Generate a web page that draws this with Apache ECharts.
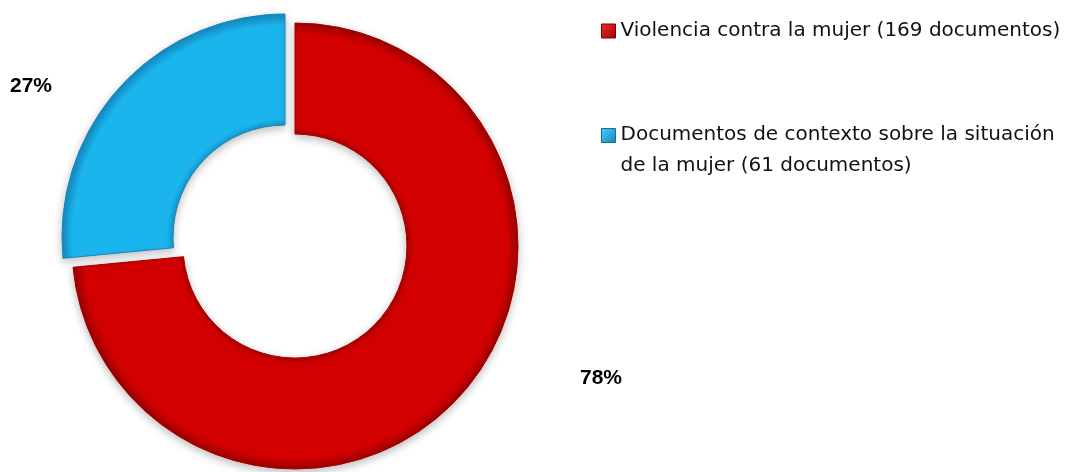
<!DOCTYPE html>
<html>
<head>
<meta charset="utf-8">
<script src="https://cdn.jsdelivr.net/npm/echarts@6/dist/echarts.min.js"></script>
<style>
  html, body { margin: 0; padding: 0; background: #ffffff; }
  #chart { width: 1065px; height: 472px; }
</style>
</head>
<body>
<div id="chart"></div>
<script>
// Document counts by category
const categories = [
  'Violencia contra la mujer (169 documentos)',
  'Documentos de contexto sobre la situación de la mujer (61 documentos)'
];
const docCounts = [169, 61];
const pctLabels = ['78%', '27%'];
const legendLines = [
  ['Violencia contra la mujer (169 documentos)'],
  ['Documentos de contexto sobre la situación', 'de la mujer (61 documentos)']
];

const chart = echarts.init(document.getElementById('chart'), null, { renderer: 'canvas' });

// Ring shading: darker rims on both edges, flat body in between
function ringShade(cx, cy, r, rim, body) {
  return {
    type: 'radial', x: cx, y: cy, r: r,
    colorStops: [
      { offset: 0.0, color: rim },
      { offset: 0.49, color: rim },
      { offset: 0.53, color: body },
      { offset: 0.95, color: body },
      { offset: 1.0, color: rim }
    ]
  };
}
// Bevelled legend swatch
function swatch(light, dark) {
  return {
    type: 'linear', x: 0, y: 0, x2: 1, y2: 1,
    colorStops: [{ offset: 0, color: light }, { offset: 1, color: dark }]
  };
}

const sliceStyles = [
  { color: ringShade(0.5, 0.5, 0.5, '#9c0000', '#d30000'), borderColor: '#a30000' },
  { color: ringShade(1, 0.914, 1, '#1488c0', '#1bb5ee'), borderColor: '#1784b8' }
];
// each slice sits on its own centre (the red one is pulled out)
const sliceCenters = [[295, 246], [285, 237]];
const labelSpots = [[601, 378], [31, 86]];

const hidden = {
  color: 'rgba(0,0,0,0)', borderWidth: 0,
  shadowBlur: 0, shadowColor: 'rgba(0,0,0,0)'
};

function sliceSeries(k) {
  return {
    type: 'pie',
    name: categories[k],
    center: sliceCenters[k],
    radius: [112, 223],
    startAngle: 90,
    clockwise: true,
    avoidLabelOverlap: false,
    emphasis: { disabled: true },
    itemStyle: {
      borderWidth: 1,
      shadowBlur: 8,
      shadowColor: 'rgba(0,0,0,0.25)',
      shadowOffsetY: 3
    },
    label: {
      show: true,
      position: 'outside',
      formatter: p => pctLabels[p.dataIndex],
      fontFamily: 'Liberation Sans',
      fontWeight: 'bold',
      fontSize: 21,
      color: '#000000'
    },
    labelLine: { show: false },
    labelLayout: p => ({
      x: labelSpots[p.dataIndex][0],
      y: labelSpots[p.dataIndex][1],
      align: 'center',
      verticalAlign: 'middle'
    }),
    data: categories.map((name, i) => i === k
      ? { name: name, value: docCounts[i], itemStyle: sliceStyles[i] }
      : { name: name, value: docCounts[i], itemStyle: hidden, label: { show: false } })
  };
}

const legendBase = {
  orient: 'vertical', left: 596,
  itemWidth: 14, itemHeight: 14, itemGap: 0,
  icon: 'rect', selectedMode: false
};
const legendText = { fontFamily: 'DejaVu Sans', fontSize: 20, color: '#111111' };

const option = {
  backgroundColor: '#ffffff',
  animation: false,
  legend: [
    Object.assign({}, legendBase, {
      top: 11,
      textStyle: Object.assign({}, legendText, { lineHeight: 30 }),
      data: [{ name: categories[0], itemStyle: { color: swatch('#f03030', '#a00000'), borderColor: '#7a0000', borderWidth: 1 } }],
      formatter: () => legendLines[0][0]
    }),
    Object.assign({}, legendBase, {
      top: 120,
      textStyle: Object.assign({}, legendText, {
        rich: {
          first: Object.assign({}, legendText, { lineHeight: 60 }),
          rest: Object.assign({}, legendText, { lineHeight: 1 })
        }
      }),
      data: [{ name: categories[1], itemStyle: { color: swatch('#4fd0ff', '#1280b8'), borderColor: '#126f9c', borderWidth: 1 } }],
      formatter: () => '{first|' + legendLines[1][0] + '}\n{rest|' + legendLines[1][1] + '}'
    })
  ],
  series: [sliceSeries(0), sliceSeries(1)]
};

chart.setOption(option);
</script>
</body>
</html>
